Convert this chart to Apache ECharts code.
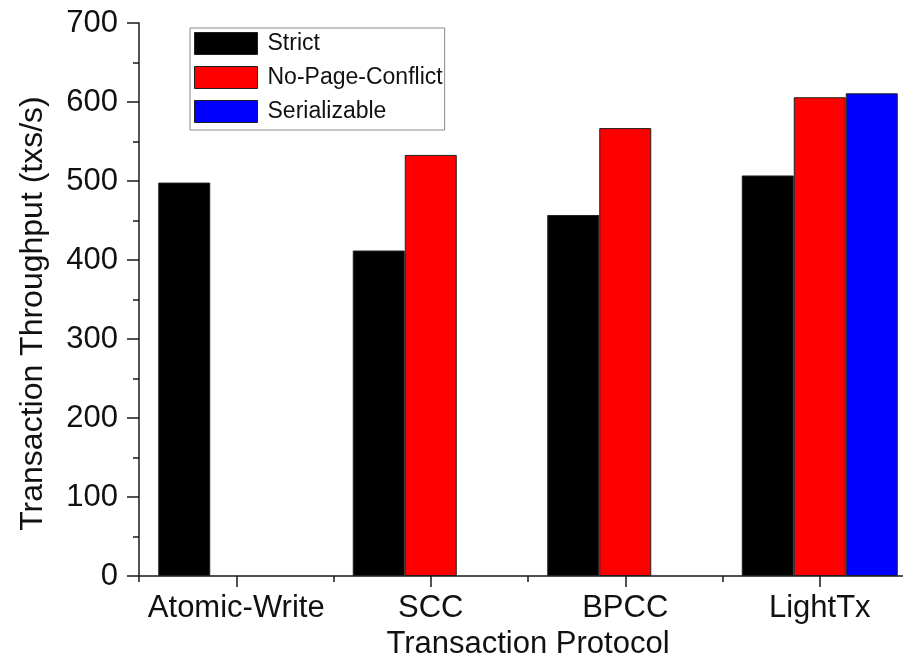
<!DOCTYPE html>
<html>
<head>
<meta charset="utf-8">
<script src="https://cdn.jsdelivr.net/npm/echarts@6/dist/echarts.min.js"></script>
<style>
  html, body { margin: 0; padding: 0; background: #fff; overflow: hidden; width: 903px; height: 658px; }
  /* canvas is a bit wider than the page so the last category runs off the right edge */
  #chart { width: 930px; height: 658px; }
</style>
</head>
<body>
<div id="chart"></div>
<script>
// Transaction throughput per protocol and isolation mode
const protocols = ['Atomic-Write', 'SCC', 'BPCC', 'LightTx'];
const strictValues = [498, 412, 457, 507];
const noPageConflictValues = [null, 533, 567, 606];
const serializableValues = [null, null, null, 611];
const yTicks = [0, 100, 200, 300, 400, 500, 600, 700];

const FONT = '"Liberation Sans", Arial, sans-serif';
const AXIS_COLOR = '#1a1a1a';

const chart = echarts.init(document.getElementById('chart'), null, { renderer: 'canvas' });

function barSeries(name, data, color) {
  return {
    name: name,
    type: 'bar',
    data: data,
    barWidth: 52,
    barGap: '0%',
    barCategoryGap: '20%',
    xAxisIndex: 0,
    itemStyle: { color: color, borderColor: '#202020', borderWidth: 1 }
  };
}

chart.setOption({
  animation: false,
  backgroundColor: '#ffffff',
  grid: { left: 139, top: 23, width: 778, height: 553, containLabel: false, outerBoundsMode: 'none' },
  legend: {
    orient: 'vertical',
    left: 190,
    top: 28,
    padding: [4, 2, 7, 4],
    itemWidth: 63,
    itemHeight: 22,
    itemGap: 11,
    borderColor: '#8a8a8a',
    borderWidth: 1,
    backgroundColor: '#ffffff',
    icon: 'rect',
    itemStyle: { borderColor: '#202020', borderWidth: 1 },
    textStyle: { fontFamily: FONT, fontSize: 23, color: '#111', padding: [0, 0, 0, 5] },
    data: ['Strict', 'No-Page-Conflict', 'Serializable']
  },
  xAxis: [
    {
      type: 'category',
      position: 'bottom',
      data: protocols,
      name: 'Transaction Protocol',
      nameLocation: 'middle',
      nameGap: 37,
      nameTextStyle: { fontFamily: FONT, fontSize: 31, color: '#111' },
      axisLine: { show: true, lineStyle: { color: AXIS_COLOR, width: 1.5 } },
      axisTick: { show: true, alignWithLabel: true, inside: false, length: 11, lineStyle: { color: AXIS_COLOR, width: 1.5 } },
      axisLabel: { interval: 0, hideOverlap: false, fontFamily: FONT, fontSize: 31, color: '#111', margin: 17 },
      splitLine: { show: false }
    },
    {
      // boundary ticks between categories
      type: 'category',
      position: 'bottom',
      data: protocols,
      axisLine: { show: false },
      axisTick: { show: true, interval: 0, length: 6, lineStyle: { color: AXIS_COLOR, width: 1.5 } },
      axisLabel: { show: false },
      splitLine: { show: false }
    }
  ],
  yAxis: {
    type: 'value',
    min: yTicks[0],
    max: yTicks[yTicks.length - 1],
    interval: 100,
    name: 'Transaction Throughput (txs/s)',
    nameLocation: 'middle',
    nameGap: 90,
    nameTextStyle: { fontFamily: FONT, fontSize: 32, color: '#111', padding: [0, 28, 0, 0] },
    axisLine: { show: true, lineStyle: { color: AXIS_COLOR, width: 1.5 } },
    axisTick: { show: true, inside: false, length: 12, lineStyle: { color: AXIS_COLOR, width: 1.5 } },
    minorTick: { show: true, splitNumber: 2, length: 6, lineStyle: { color: AXIS_COLOR, width: 1.5 } },
    axisLabel: { fontFamily: FONT, fontSize: 31, color: '#111', margin: 21 },
    splitLine: { show: false },
    minorSplitLine: { show: false }
  },
  series: [
    barSeries('Strict', strictValues, '#000000'),
    barSeries('No-Page-Conflict', noPageConflictValues, '#ff0000'),
    barSeries('Serializable', serializableValues, '#0000ff')
  ]
});
</script>
</body>
</html>
